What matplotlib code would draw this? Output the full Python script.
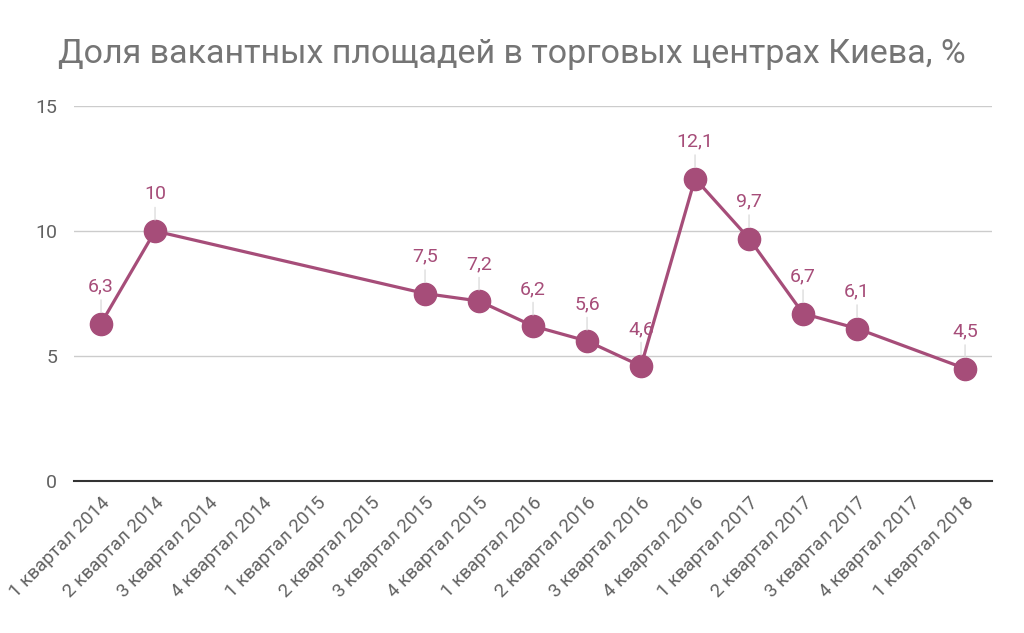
import numpy as np
import matplotlib.pyplot as plt

plt.rcParams['font.family'] = ['Roboto', 'DejaVu Sans']

quarters = ['1 квартал 2014', '2 квартал 2014', '3 квартал 2014', '4 квартал 2014',
            '1 квартал 2015', '2 квартал 2015', '3 квартал 2015', '4 квартал 2015',
            '1 квартал 2016', '2 квартал 2016', '3 квартал 2016', '4 квартал 2016',
            '1 квартал 2017', '2 квартал 2017', '3 квартал 2017', '4 квартал 2017',
            '1 квартал 2018']
vacancy = [6.3, 10, None, None, None, None, 7.5, 7.2, 6.2, 5.6, 4.6, 12.1,
           9.7, 6.7, 6.1, None, 4.5]

purple = '#a64d79'

xs = [i for i, v in enumerate(vacancy) if v is not None]
ys = [v for v in vacancy if v is not None]

fig = plt.figure(figsize=(10.24, 6.33), dpi=100)
ax = fig.add_axes([0.0723, 0.2401, 0.8965, 0.5924])

ax.plot(xs, ys, color=purple, lw=2.3, marker='o', ms=16, zorder=3)

for x, y in zip(xs, ys):
    ax.annotate(('%g' % y).replace('.', ','), (x, y), xytext=(0, 20),
                textcoords='offset points', ha='center', va='bottom',
                color=purple, fontsize=14,
                arrowprops=dict(arrowstyle='-', color='#dddddd', lw=1,
                                shrinkA=1, shrinkB=8))

ax.set_xlim(-0.5, len(quarters) - 0.5)
ax.set_ylim(0, 15)
ax.set_yticks([0, 5, 10, 15])
ax.set_xticks(range(len(quarters)))
ax.set_xticklabels(quarters, rotation=45, ha='right', rotation_mode='anchor')
ax.tick_params(axis='both', length=0, labelcolor='#616161')
ax.tick_params(axis='y', pad=12, labelsize=14)
ax.tick_params(axis='x', pad=9, labelsize=13.5)
ax.grid(axis='y', color='#cccccc', lw=1)
ax.set_axisbelow(True)
for s in ['top', 'right', 'left']:
    ax.spines[s].set_visible(False)
ax.spines['bottom'].set_color('#333333')
ax.spines['bottom'].set_linewidth(1.5)

fig.text(0.5, 0.915, 'Доля вакантных площадей в торговых центрах Киева, %',
         ha='center', va='center', fontsize=24.5, color='#757575')

fig.savefig('out.png', dpi=100)
